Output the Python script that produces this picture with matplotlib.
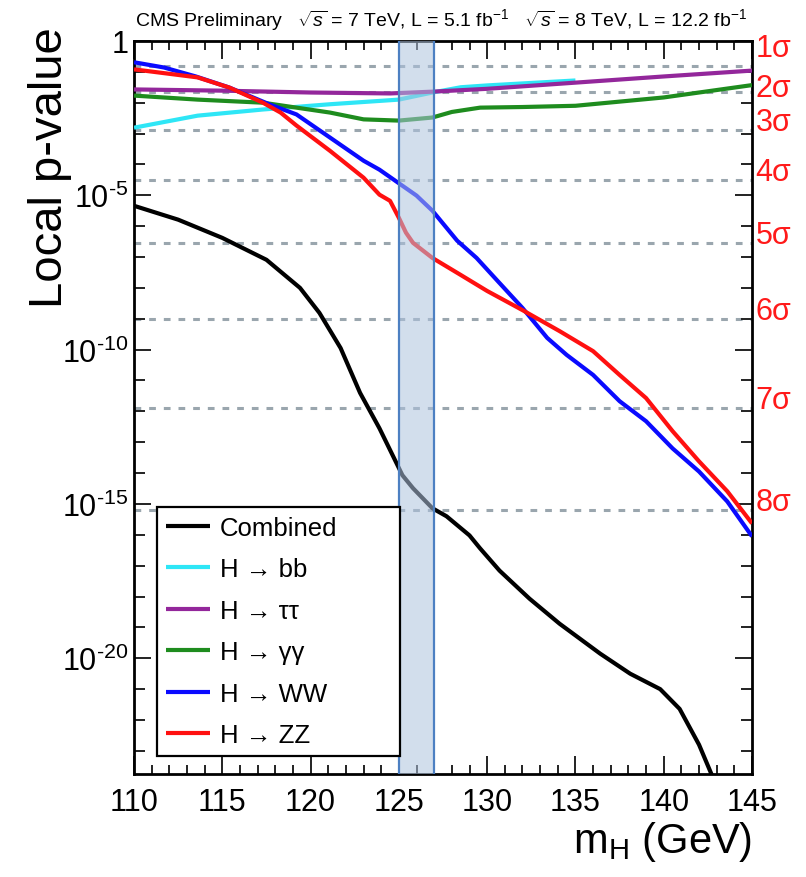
import numpy as np
import matplotlib
matplotlib.use("Agg")
import matplotlib.pyplot as plt
from matplotlib.patches import Rectangle
from matplotlib.ticker import NullFormatter
import matplotlib.transforms as mtransforms

plt.rcParams['font.family'] = ['Liberation Sans', 'DejaVu Sans']
plt.rcParams['mathtext.fontset'] = 'custom'
plt.rcParams['mathtext.rm'] = 'Liberation Sans'
plt.rcParams['mathtext.it'] = 'Liberation Sans:italic'
plt.rcParams['mathtext.bf'] = 'Liberation Sans:bold'

# local p-values, stored as log10(p) vs m_H (GeV)
m_comb = [110, 112.5, 115, 117.5, 119.4, 120.5, 121.7, 122.8, 123.9, 125.2, 125.8,
          126.9, 127.7, 129.0, 129.6, 130.7, 132.4, 134.1, 136.4, 138.1, 139.8,
          140.9, 142.0, 142.7, 143.0]
lp_comb = [-5.34, -5.79, -6.38, -7.09, -8.0, -8.81, -9.95, -11.4, -12.55, -14.07, -14.49,
           -15.14, -15.4, -16.02, -16.44, -17.16, -18.07, -18.88, -19.85, -20.5, -21.0,
           -21.64, -22.8, -23.75, -24.3]

m_bb = [110, 113.6, 117.3, 121.1, 125.0, 126.9, 128.5, 130.0, 132.5, 135.0]
lp_bb = [-2.81, -2.42, -2.22, -2.05, -1.9, -1.67, -1.5, -1.44, -1.36, -1.28]

m_tt = [110, 115, 120, 124.5, 127, 130, 135, 140, 145]
lp_tt = [-1.57, -1.61, -1.67, -1.70, -1.64, -1.55, -1.35, -1.15, -0.96]

m_gg = [110, 113.6, 117.3, 119.2, 121.1, 123.0, 125.0, 126.9, 128.0, 129.6, 132.0,
        135.0, 140.0, 145.0]
lp_gg = [-1.77, -1.9, -2.0, -2.16, -2.32, -2.54, -2.58, -2.48, -2.3, -2.16, -2.14,
         -2.1, -1.83, -1.43]

m_ww = [110, 111.7, 113.5, 115.4, 117.7, 119.2, 121.1, 123.0, 123.9, 125.2, 126.0,
        126.9, 128.3, 129.4, 130.6, 132.0, 133.4, 134.5, 136.0, 137.5, 139.0,
        140.5, 142.0, 143.6, 145.0]
lp_ww = [-0.69, -0.86, -1.15, -1.51, -2.06, -2.38, -3.13, -3.88, -4.17, -4.69, -5.01,
         -5.5, -6.47, -7.03, -7.78, -8.65, -9.62, -10.17, -10.82, -11.67, -12.32,
         -13.2, -13.95, -14.92, -16.05]

m_zz = [110, 113.6, 115.4, 117.3, 118.3, 119.2, 121.1, 123.0, 123.9, 124.5, 125.0,
        125.4, 125.8, 126.9, 128.5, 130.0, 132.0, 134.1, 136.0, 137.5, 139.0,
        140.5, 142.0, 143.6, 145.0]
lp_zz = [-0.92, -1.18, -1.51, -2.0, -2.32, -2.74, -3.56, -4.43, -4.98, -5.18, -5.73,
         -6.21, -6.54, -7.03, -7.58, -8.1, -8.72, -9.4, -10.05, -10.82, -11.57,
         -12.64, -13.62, -14.59, -15.63]

channels = ['Combined', 'H → bb', 'H → ττ', 'H → γγ', 'H → WW', 'H → ZZ']
colors = ['black', '#2ee6f6', '#93279b', '#1e8c1e', '#0a0aff', '#ff1010']
masses = [m_comb, m_bb, m_tt, m_gg, m_ww, m_zz]
logp = [lp_comb, lp_bb, lp_tt, lp_gg, lp_ww, lp_zz]

# one-sided p-values for 1..8 sigma
sigma_names = ['1σ', '2σ', '3σ', '4σ', '5σ', '6σ', '7σ', '8σ']
sigma_p = [1.587e-1, 2.275e-2, 1.350e-3, 3.167e-5, 2.867e-7, 9.866e-10, 1.280e-12, 6.221e-16]

band = (125.0, 127.0)

fig = plt.figure(figsize=(8.06, 8.78), dpi=100)
ax = fig.add_axes([0.1663, 0.1173, 0.7667, 0.8349])
ax.set_yscale('log')
ax.set_xlim(110, 145)
ax.set_ylim(10 ** -23.75, 1)

for p in sigma_p:
    ax.axhline(p, color='#9aa6ae', lw=2.2, ls=(0, (2.2, 2.6)), zorder=1)

lines = []
for m, lp, c, name in zip(masses, logp, colors, channels):
    l, = ax.plot(m, 10 ** np.array(lp), color=c, lw=3.0, label=name, zorder=3,
                 solid_capstyle='butt')
    lines.append(l)

# shaded mass window drawn on top of the curves
ax.add_patch(Rectangle((band[0], 1e-30), band[1] - band[0], 1e31,
                       facecolor='#aec3de', alpha=0.55, edgecolor='none', zorder=4))
ax.add_patch(Rectangle((band[0], 1e-30), band[1] - band[0], 1e31,
                       facecolor='none', edgecolor='#4d80c2', lw=1.6, zorder=5))

# significance labels on the right, the two top ones pushed apart a little
trans = mtransforms.blended_transform_factory(ax.transAxes, ax.transData)
for i, (name, p) in enumerate(zip(sigma_names, sigma_p)):
    dy = {0: 7, 1: -3}.get(i, 0)
    ax.annotate(name, (1.006, p), xycoords=trans, xytext=(0, dy),
                textcoords='offset points', color='#ff1a1a', fontsize=22,
                ha='left', va='baseline', annotation_clip=False)

# axis ticks
ax.set_xticks(np.arange(110, 146, 5))
ax.set_xticks(np.arange(110, 146, 1), minor=True)
ax.set_xticklabels([str(v) for v in range(110, 146, 5)])
ymaj = [1, 1e-5, 1e-10, 1e-15, 1e-20]
ax.set_yticks(ymaj)
ax.set_yticklabels(['1'] + ['$10^{\\text{-}%d}$' % k for k in (5, 10, 15, 20)])
ax.set_yticks([10.0 ** -k for k in range(0, 24)], minor=True)
ax.yaxis.set_minor_formatter(NullFormatter())
ax.tick_params(axis='both', which='both', direction='in', top=True, right=True,
               labelsize=22, width=1.4, color='#222222')
ax.tick_params(axis='x', which='major', length=13, pad=9)
ax.tick_params(axis='x', which='minor', length=6.5)
ax.tick_params(axis='y', which='major', length=12, pad=4)
ax.tick_params(axis='y', which='minor', length=8)
for s in ax.spines.values():
    s.set_linewidth(2.0)

ax.set_xlabel('m$_{\\mathrm{H}}$ (GeV)', fontsize=30, loc='right', labelpad=2)
ax.set_ylabel('Local p-value', fontsize=34, loc='top')
ax.yaxis.set_label_coords(-0.1, 1.02)

leg = ax.legend(handles=lines, loc='lower left', bbox_to_anchor=(0.037, 0.0246, 0.393, 0.342),
                mode='expand', fontsize=18.5, handlelength=1.7, labelspacing=0.68,
                borderpad=0.35, handletextpad=0.4, borderaxespad=0, fancybox=False,
                framealpha=1, edgecolor='black')
leg.get_frame().set_linewidth(1.6)
leg.set_zorder(6)

fig.text(135 / 806, 1 - 26 / 878,
         'CMS Preliminary   $\\sqrt{s}$ = 7 TeV, L = 5.1 fb$^{-1}$   '
         '$\\sqrt{s}$ = 8 TeV, L = 12.2 fb$^{-1}$',
         fontsize=14, ha='left', va='baseline')

fig.savefig('out.png', dpi=100)
